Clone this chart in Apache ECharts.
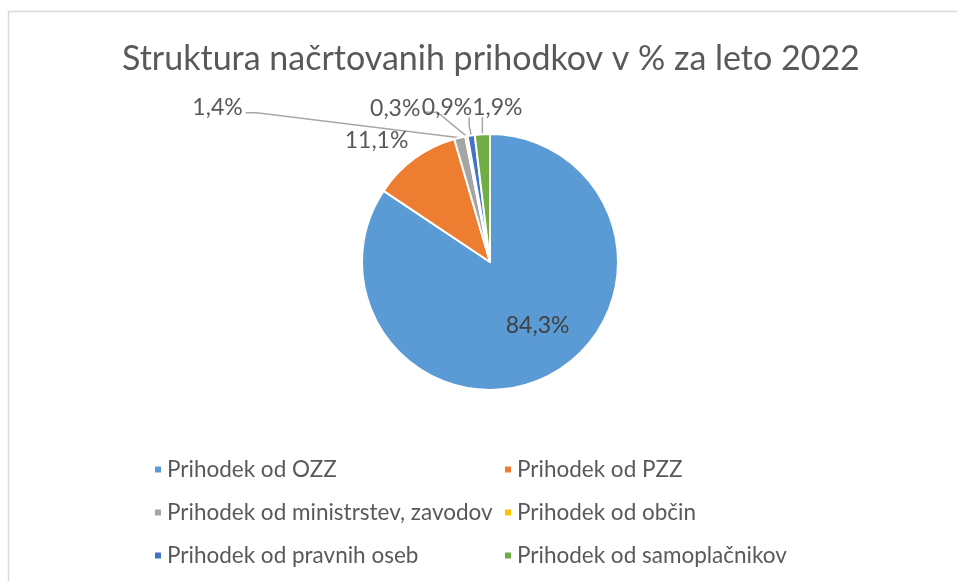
<!DOCTYPE html>
<html>
<head>
<meta charset="utf-8">
<script src="https://cdn.jsdelivr.net/npm/echarts@6/dist/echarts.min.js"></script>
<style>
html,body{margin:0;padding:0;background:#fff;}
#c{width:957px;height:581px;}
</style>
</head>
<body>
<div id="c"></div>
<script>
// ---- data ----
var titleText = 'Struktura načrtovanih prihodkov v % za leto 2022';
var categories = [
  'Prihodek od OZZ',
  'Prihodek od PZZ',
  'Prihodek od ministrstev, zavodov',
  'Prihodek od občin',
  'Prihodek od pravnih oseb',
  'Prihodek od samoplačnikov'
];
var values = [84.3, 11.1, 1.4, 0.3, 0.9, 1.9];
var colors = ['#5B9BD5', '#ED7D31', '#A5A5A5', '#FFC000', '#4472C4', '#70AD47'];

// ---- label placement (offsets from slice edge anchor) ----
var labelPlace = [
  null,
  {dx: -6, dy: -18, align: 'right', line: false},
  {dx: -217, dy: -30, align: 'right', line: [[-203, -25], [-214, -25]]},
  {dx: -46, dy: -28, align: 'right', line: [[-29, -24], [-43, -24]]},
  {dx: 1, dy: -28, align: 'right', line: [[-2, -10], [-2, -18]]},
  {dx: 15, dy: -27, align: 'center', line: [[0, -9], [0, -17]]}
];

var FONT = 'Lato, "Open Sans", sans-serif';
var chart = echarts.init(document.getElementById('c'), null, {renderer: 'canvas'});

function fmt(p) { return p.value.toFixed(1).replace('.', ',') + '%'; }

var pieData = categories.map(function (n, i) {
  return {name: n, value: values[i], itemStyle: {color: colors[i]}};
});

var leftNames = [categories[0], categories[2], categories[4]];
var rightNames = [categories[1], categories[3], categories[5]];

function legendCfg(names, left) {
  return {
    data: names,
    orient: 'vertical',
    left: left,
    top: 453,
    itemWidth: 8,
    itemHeight: 8,
    itemGap: 20,
    icon: 'rect',
    selectedMode: false,
    textStyle: {fontFamily: FONT, fontSize: 22.5, color: '#595959', padding: [0, 0, 0, 0]}
  };
}

chart.setOption({
  animation: false,
  backgroundColor: '#fff',
  graphic: [{
    type: 'rect', shape: {x: 8.5, y: 11.5, width: 980, height: 600},
    style: {fill: 'none', stroke: '#D9D9D9', lineWidth: 1.5}, silent: true
  }],
  title: {
    text: titleText,
    left: 117,
    top: 37,
    textStyle: {fontFamily: FONT, fontSize: 34, fontWeight: 'normal', color: '#595959'}
  },
  legend: [legendCfg(leftNames, 148), legendCfg(rightNames, 498)],
  series: [{
    type: 'pie',
    center: [490, 262],
    radius: [0, 128],
    startAngle: 90,
    clockwise: true,
    avoidLabelOverlap: false,
    itemStyle: {borderColor: '#fff', borderWidth: 2},
    label: {
      show: true,
      position: 'outside',
      formatter: fmt,
      fontFamily: FONT,
      fontSize: 23,
      color: '#595959'
    },
    labelLine: {show: true, length: 10, length2: 10, smooth: false, lineStyle: {color: '#A6A6A6', width: 1.5}},
    emphasis: {disabled: true},
    data: pieData.map(function (d, i) {
      if (i === 0) {
        d.label = {position: 'inside', color: '#404040'};
        d.labelLine = {show: false};
      }
      return d;
    }),
    labelLayout: function (p) {
      var cfg = labelPlace[p.dataIndex];
      if (!cfg) {
        return {dx: 16, dy: 4};
      }
      var a = p.labelLinePoints ? p.labelLinePoints[0] : [p.rect.x, p.rect.y];
      var res = {
        x: a[0] + cfg.dx,
        y: a[1] + cfg.dy,
        align: cfg.align,
        verticalAlign: 'middle'
      };
      if (cfg.line) {
        res.labelLinePoints = [a, [a[0] + cfg.line[0][0], a[1] + cfg.line[0][1]], [a[0] + cfg.line[1][0], a[1] + cfg.line[1][1]]];
      } else {
        res.labelLinePoints = [a, a, a];
      }
      return res;
    }
  }]
});
</script>
</body>
</html>
